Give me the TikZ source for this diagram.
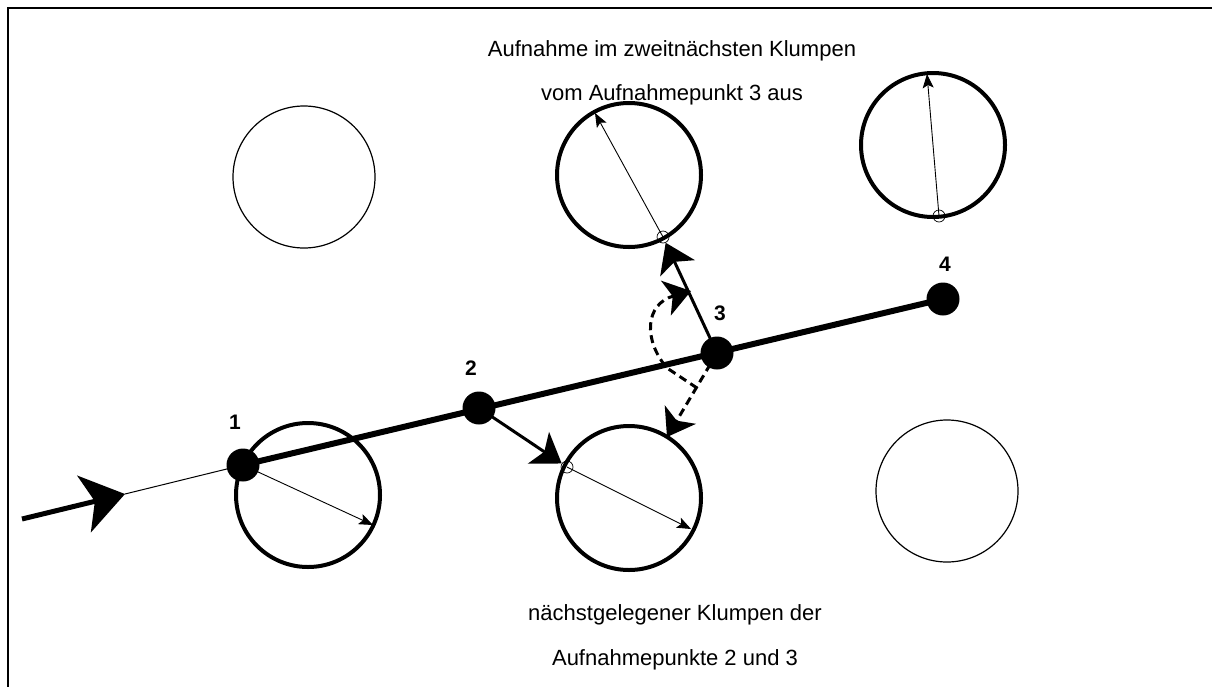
\documentclass[tikz,border=0pt]{standalone}
\usepackage{fontspec}
\setmainfont{Liberation Sans}
\usetikzlibrary{arrows.meta}
\tikzset{
  dot/.style={circle,fill=black,draw=none,minimum size=33pt,inner sep=0pt},
  bigc/.style={circle,draw=black,line width=4pt,minimum size=144pt,inner sep=0pt},
  thinc/.style={circle,draw=black,line width=1.2pt,minimum size=142pt,inner sep=0pt},
  entry/.style={circle,draw=black,line width=0.7pt,minimum size=12pt,inner sep=0pt},
  radarrow/.style={line width=0.9pt,-{Stealth[length=14pt,width=11pt,inset=3pt]}},
  medarrow/.style={line width=3pt,-{Stealth[length=28pt,width=38pt,inset=7pt]}},
  dasharrow/.style={line width=3pt,dash pattern=on 8pt off 5pt,-{Stealth[length=26pt,width=36pt,inset=7pt,sep=0pt]}},
  numlab/.style={font=\fontsize{21}{24}\selectfont\bfseries},
  txt/.style={font=\fontsize{22}{26}\selectfont,anchor=base}
}
\begin{document}
\begin{tikzpicture}[x=1pt,y=-1pt]
\useasboundingbox (0,0) rectangle (1212,686);
\clip (0,0) rectangle (1212,686);
\draw[line width=2pt] (8,700) -- (8,8) -- (1230,8);

% clumps
\node[thinc] (cA) at (304,177) {};
\node[bigc] (cB) at (629,175) {};
\node[bigc] (cC) at (933,145) {};
\node[bigc] (cD) at (308,495) {};
\node[bigc] (cE) at (629,498) {};
\node[thinc] (cF) at (947,491) {};

% entry points and diameter ends
\node[entry] (eE) at (567,467) {};
\node[entry] (eB) at (663,237) {};
\node[entry] (eC) at (939,216) {};
\coordinate (dD) at (373,525);
\coordinate (dE) at (691,529);
\coordinate (dB) at (595,113);
\coordinate (dC) at (927,74);

% incoming path
\coordinate (start) at (22,519);
\coordinate (tipin) at (125,494);
\coordinate (p1c) at (243,465);
\draw[line width=1pt] (tipin) -- (p1c);
\draw[line width=5pt,-{Stealth[length=42pt,width=58pt,inset=11pt]}] (start) -- (tipin);

% main line
\coordinate (p4c) at (943,299);
\draw[line width=6pt] (p1c) -- (p4c);

% diameters
\draw[radarrow] (p1c) -- (dD);
\draw[radarrow] (eE.center) -- (dE);
\draw[radarrow] (eB.center) -- (dB);
\draw[radarrow] (eC.center) -- (dC);

% sample points
\node[dot] (p1) at (p1c) {};
\node[dot] (p2) at (479,408) {};
\node[dot] (p3) at (717,353) {};
\node[dot] (p4) at (p4c) {};
\node[numlab] (l1) at (235,422) {1};
\node[numlab] (l2) at (471,368) {2};
\node[numlab] (l3) at (720,313) {3};
\node[numlab] (l4) at (945,264) {4};

% arrows to clumps
\draw[medarrow] (p2.center) -- (eE);
\draw[medarrow] (p3.center) -- (eB);

% dashed search arcs
\coordinate (dtip1) at (667,437);
\coordinate (jn) at (697,388);
\coordinate (cross) at (667,368);
\coordinate (dtip2) at (691,291);
\draw[dasharrow] (p3.center) -- (dtip1);
\draw[dasharrow] (jn) -- (cross) .. controls (643,340) and (645,304) .. (dtip2);

% texts
\node[txt] (t1) at (672,56) {Aufnahme im zweitnächsten Klumpen};
\node[txt] (t2) at (672,100) {vom Aufnahmepunkt 3 aus};
\node[txt] (t3) at (675,620) {nächstgelegener Klumpen der};
\node[txt] (t4) at (675,665) {Aufnahmepunkte 2 und 3};
\end{tikzpicture}
\end{document}
